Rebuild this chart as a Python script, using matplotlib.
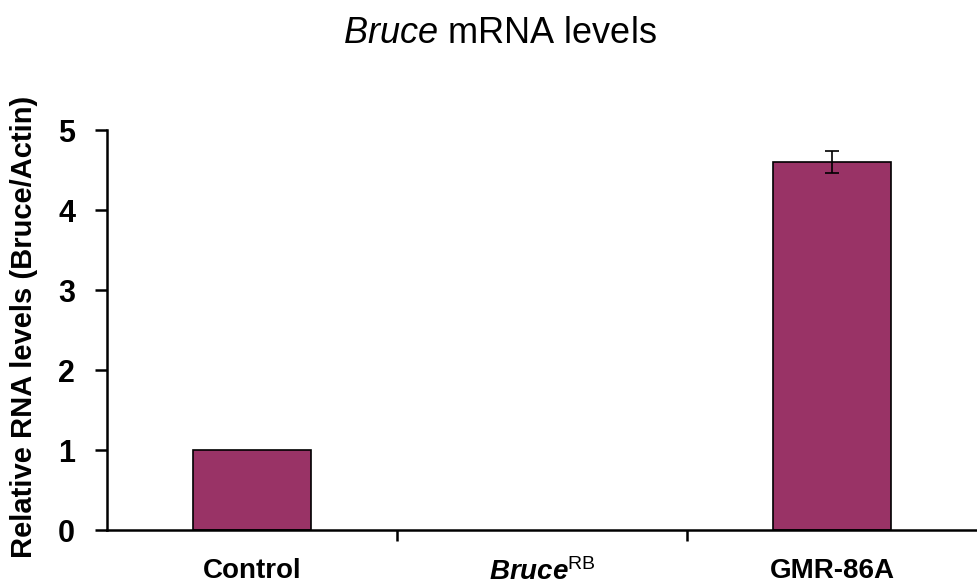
import numpy as np
import matplotlib
matplotlib.use('Agg')
from matplotlib import pyplot as plt

plt.rcParams['font.family'] = ['Liberation Sans', 'DejaVu Sans']
plt.rcParams['mathtext.fontset'] = 'custom'
plt.rcParams['mathtext.rm'] = 'Liberation Sans'
plt.rcParams['mathtext.it'] = 'Liberation Sans:italic'
plt.rcParams['mathtext.bf'] = 'Liberation Sans:bold'
plt.rcParams['mathtext.bfit'] = 'Liberation Sans:italic:bold'

# data
groups = ['Control', r'$\mathbfit{Bruce}^{\mathrm{RB}}$', 'GMR-86A']
levels = [1.0, 0.0, 4.6]
errors = [0.0, 0.0, 0.14]
bar_color = '#993366'

fig = plt.figure(figsize=(9.77, 5.88), dpi=100)
ax = fig.add_axes([0.1095, 0.0986, 0.8905, 0.6803])

x = np.arange(len(groups))
edge_w = [1.2 if v > 0 else 0 for v in levels]  # no outline for empty bar
ax.bar(x, levels, width=0.41, color=bar_color, edgecolor='black', linewidth=edge_w)
err_idx = [i for i, e in enumerate(errors) if e > 0]
ax.errorbar(x[err_idx], np.array(levels)[err_idx], yerr=np.array(errors)[err_idx],
            fmt='none', ecolor='black', elinewidth=1.2, capsize=5, capthick=1.2)

ax.set_xlim(-0.5, len(groups) - 0.5)
ax.set_ylim(0, 5)
ax.set_yticks(range(0, 6))
ax.tick_params(axis='y', labelsize=22, length=9, width=1.8, direction='out', pad=14)
for lab in ax.get_yticklabels():
    lab.set_fontweight('bold')

# category ticks sit between groups, labels in the middle
ax.set_xticks(x[:-1] + 0.5)
ax.set_xticklabels([])
ax.tick_params(axis='x', length=8, width=1.8, direction='out')
for i, g in enumerate(groups):
    ax.text(i, -0.07, g, ha='center', va='top', fontsize=20, fontweight='bold',
            transform=ax.get_xaxis_transform())

ax.spines['top'].set_visible(False)
ax.spines['right'].set_visible(False)
ax.spines['left'].set_linewidth(1.8)
ax.spines['bottom'].set_linewidth(1.8)

fig.text(24 / 977, 1 - 327 / 588, 'Relative RNA levels (Bruce/Actin)', rotation=90,
         ha='center', va='center', fontsize=21, fontweight='bold')
fig.text(0.512, 1 - 43 / 588, r'$\mathit{Bruce}$ mRNA levels', ha='center', va='baseline',
         fontsize=26)

fig.savefig('out.png', dpi=100)
